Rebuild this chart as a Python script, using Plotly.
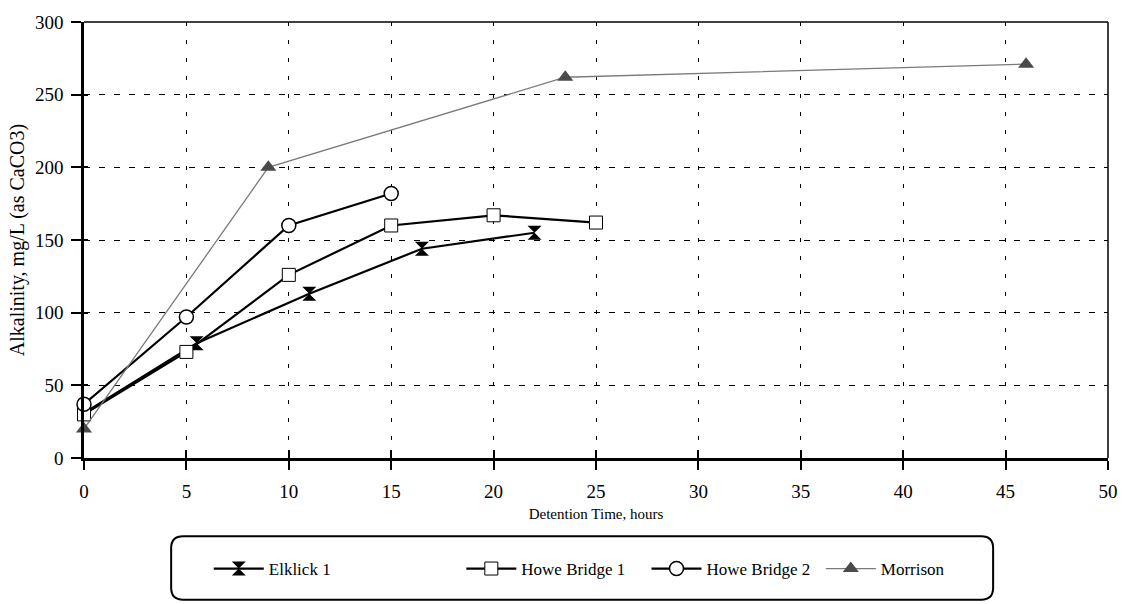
import plotly.graph_objects as go

# ---- data ----
elklick_x = [0, 5.5, 11, 16.5, 22]
elklick_y = [31, 79, 113, 144, 155]

hb1_x = [0, 5, 10, 15, 20, 25]
hb1_y = [30, 73, 126, 160, 167, 162]

hb2_x = [0, 5, 10, 15]
hb2_y = [37, 97, 160, 182]

morrison_x = [0, 9, 23.5, 46]
morrison_y = [20, 200, 262, 271]

x_ticks = [0, 5, 10, 15, 20, 25, 30, 35, 40, 45, 50]
y_ticks = [0, 50, 100, 150, 200, 250, 300]

FONT = "Liberation Serif"

fig = go.Figure()

fig.add_trace(go.Scatter(
    x=elklick_x, y=elklick_y, name="Elklick 1", mode="lines+markers",
    line=dict(color="black", width=2.2),
    marker=dict(symbol="hourglass", size=14, color="black"),
    cliponaxis=False, legend="legend"))
fig.add_trace(go.Scatter(
    x=hb1_x, y=hb1_y, name="Howe Bridge 1", mode="lines+markers",
    line=dict(color="black", width=2.2),
    marker=dict(symbol="square", size=13, color="white",
                line=dict(color="black", width=1)),
    cliponaxis=False, legend="legend2"))
fig.add_trace(go.Scatter(
    x=hb2_x, y=hb2_y, name="Howe Bridge 2", mode="lines+markers",
    line=dict(color="black", width=2.2),
    marker=dict(symbol="circle", size=14, color="white",
                line=dict(color="black", width=1.5)),
    cliponaxis=False, legend="legend3"))
fig.add_trace(go.Scatter(
    x=morrison_x, y=morrison_y, name="Morrison", mode="lines+markers",
    line=dict(color="#7a7a7a", width=1.3),
    marker=dict(symbol="triangle-up", size=14, color="#4a4a4a"),
    cliponaxis=False, legend="legend4"))

# invisible trace to carry the inner tick axes
fig.add_trace(go.Scatter(
    x=[0], y=[0], xaxis="x2", yaxis="y2", mode="markers",
    marker=dict(opacity=0), showlegend=False, hoverinfo="skip"))

W, H = 1130, 604
# plot area in page pixels: left 84, right 1118, top 18, bottom 458
L, T = 84, 18
R = W - 1118
B = H - 458

fig.update_layout(
    width=W, height=H,
    margin=dict(l=L, r=R, t=T, b=B),
    paper_bgcolor="white", plot_bgcolor="white",
    font=dict(family=FONT, color="black", size=16),
    showlegend=True,
    xaxis=dict(
        range=[0, 50], tickvals=x_ticks, ticktext=[str(v) for v in x_ticks],
        ticks="outside", ticklen=9, tickwidth=2, tickcolor="black",
        ticklabelstandoff=5, ticklabeloverflow="allow",
        showline=True, linecolor="black", linewidth=2.5, mirror=False,
        showgrid=True, gridcolor="black", gridwidth=1.4, griddash="4px,14px",
        zeroline=False, tickfont=dict(family=FONT, size=19),
        title=dict(text="Detention Time, hours", font=dict(family=FONT, size=15), standoff=8),
    ),
    yaxis=dict(
        range=[0, 300], tickvals=y_ticks, ticktext=[str(v) for v in y_ticks],
        ticks="outside", ticklen=10, tickwidth=2, tickcolor="black",
        ticklabelstandoff=4, ticklabeloverflow="allow",
        showline=True, linecolor="black", linewidth=2.5, mirror=False,
        showgrid=True, gridcolor="black", gridwidth=1.4, griddash="6px,9px",
        zeroline=False, tickfont=dict(family=FONT, size=19),
        title=dict(text="Alkalinity, mg/L (as CaCO3)", font=dict(family=FONT, size=20), standoff=5),
    ),
    xaxis2=dict(
        overlaying="x", anchor="y", side="bottom", range=[0, 50], tickvals=x_ticks,
        ticks="inside", ticklen=8, tickwidth=2, tickcolor="black",
        showticklabels=False, showgrid=False, showline=False, zeroline=False,
    ),
    yaxis2=dict(
        overlaying="y", anchor="x", side="left", range=[0, 300], tickvals=y_ticks,
        ticks="inside", ticklen=4, tickwidth=2, tickcolor="black",
        showticklabels=False, showgrid=False, showline=False, zeroline=False,
    ),
)

pw = W - L - R
ph = H - T - B

def px_to_paper_x(px):
    return (px - L) / pw

def px_to_paper_y(py):
    return (H - B - py) / ph

leg_common = dict(orientation="h", yanchor="middle", xanchor="left",
                  y=px_to_paper_y(570), bgcolor="rgba(0,0,0,0)", borderwidth=0,
                  itemwidth=50,
                  font=dict(family=FONT, size=17, color="black"))
fig.update_layout(
    legend=dict(x=px_to_paper_x(210), **leg_common),
    legend2=dict(x=px_to_paper_x(465), **leg_common),
    legend3=dict(x=px_to_paper_x(652), **leg_common),
    legend4=dict(x=px_to_paper_x(828), **leg_common),
)

# thin top/right frame
fig.add_shape(type="line", xref="paper", yref="paper", x0=0, x1=1, y0=1, y1=1,
              line=dict(color="black", width=1.5))
fig.add_shape(type="line", xref="paper", yref="paper", x0=1, x1=1, y0=0, y1=1,
              line=dict(color="black", width=1.5))

# rounded legend box
x0, x1 = px_to_paper_x(172), px_to_paper_x(1002)
y0, y1 = px_to_paper_y(601), px_to_paper_y(537)
rx, ry = 12 / pw, 12 / ph
path = (f"M {x0+rx},{y1} L {x1-rx},{y1} Q {x1},{y1} {x1},{y1-ry} "
        f"L {x1},{y0+ry} Q {x1},{y0} {x1-rx},{y0} L {x0+rx},{y0} "
        f"Q {x0},{y0} {x0},{y0+ry} L {x0},{y1-ry} Q {x0},{y1} {x0+rx},{y1} Z")
fig.add_shape(type="path", xref="paper", yref="paper", path=path,
              line=dict(color="black", width=2))

# remove the default page margin so the figure fills the window exactly
fig.write_html(
    "out.html",
    config={"displayModeBar": False},
    post_script="document.body.style.margin='0';"
                "document.documentElement.style.overflow='hidden';",
)
